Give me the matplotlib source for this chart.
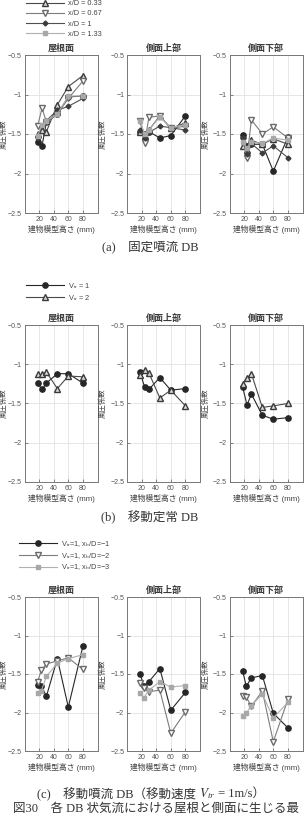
import matplotlib
matplotlib.use("Agg")
import matplotlib.pyplot as plt

plt.rcParams['font.family'] = ['Liberation Sans', 'Noto Sans CJK JP']
plt.rcParams['axes.unicode_minus'] = True
plt.rcParams['mathtext.fontset'] = 'stix'

# ---- shared axis info ----
heights = [18, 24, 30, 45, 60, 80]
heights_c = [18, 23, 30, 45, 60, 80]
panel_titles = ['屋根面', '側面上部', '側面下部']
y_ticks = [-2.5, -2, -1.5, -1, -0.5]
y_tick_labels = ['−2.5', '−2', '−1.5', '−1', '−0.5']
x_ticks = [20, 40, 60, 80]

# ---- (a) fixed jet DB ----
# first series (filled circles) has its legend entry cut off above the figure
fixed_labels = ['x/D = 0.33', 'x/D = 0.67', 'x/D = 1', 'x/D = 1.33']
fixed_roof = [
    [-1.60, -1.65, -1.35, -1.25, -1.03, -1.02],
    [-1.50, -1.45, -1.47, -1.13, -0.90, -0.76],
    [-1.40, -1.17, -1.35, -1.25, -1.05, -0.83],
    [-1.55, -1.40, -1.33, -1.20, -1.15, -1.05],
    [-1.52, -1.38, -1.33, -1.25, -1.02, -1.02],
]
fixed_upper = [
    [-1.47, -1.50, -1.47, -1.55, -1.52, -1.27],
    [-1.47, -1.52, -1.45, -1.27, -1.43, -1.36],
    [-1.33, -1.62, -1.29, -1.27, -1.43, -1.40],
    [-1.45, -1.55, -1.48, -1.40, -1.42, -1.45],
    [-1.33, -1.50, -1.45, -1.28, -1.42, -1.38],
]
fixed_lower = [
    [-1.51, -1.65, -1.63, -1.63, -1.97, -1.54],
    [-1.65, -1.70, -1.58, -1.63, -1.56, -1.63],
    [-1.58, -1.80, -1.32, -1.50, -1.41, -1.55],
    [-1.55, -1.75, -1.62, -1.74, -1.65, -1.80],
    [-1.60, -1.68, -1.60, -1.62, -1.55, -1.58],
]

# ---- (b) moving steady DB ----
steady_labels = ['V$_{\\rm tr}$ = 1', 'V$_{\\rm tr}$ = 2']
steady_roof = [
    [-1.24, -1.32, -1.24, -1.12, -1.12, -1.24],
    [-1.13, -1.13, -1.10, -1.31, -1.15, -1.16],
]
steady_upper = [
    [-1.10, -1.29, -1.32, -1.17, -1.33, -1.31],
    [-1.14, -1.07, -1.11, -1.43, -1.33, -1.53],
]
steady_lower = [
    [-1.29, -1.52, -1.38, -1.65, -1.70, -1.68],
    [-1.25, -1.18, -1.12, -1.55, -1.53, -1.50],
]

# ---- (c) moving jet DB ----
jet_labels = ['V$_{\\rm tr}$=1, x$_{\\rm b}$/D=−1',
              'V$_{\\rm tr}$=1, x$_{\\rm b}$/D=−2',
              'V$_{\\rm tr}$=1, x$_{\\rm b}$/D=−3']
jet_roof = [
    [-1.64, -1.65, -1.79, -1.30, -1.93, -1.14],
    [-1.60, -1.45, -1.37, -1.33, -1.29, -1.44],
    [-1.75, -1.72, -1.53, -1.36, -1.30, -1.25],
]
jet_upper = [
    [-1.50, -1.66, -1.60, -1.43, -1.97, -1.74],
    [-1.62, -1.68, -1.73, -1.71, -2.27, -1.99],
    [-1.75, -1.81, -1.71, -1.60, -1.67, -1.65],
]
jet_lower = [
    [-1.46, -1.66, -1.55, -1.52, -2.01, -2.20],
    [-1.79, -1.80, -1.92, -1.72, -2.38, -1.83],
    [-2.05, -2.01, -1.91, -1.76, -2.07, -1.87],
]

# marker / line styles
st_circle = dict(color='#262626', marker='o', ms=3.8, mfc='#262626', mec='#262626')
st_up = dict(color='#4a4a4a', marker='^', ms=4.0, mfc='#d8d8d8', mec='#3a3a3a')
st_down = dict(color='#7c7c7c', marker='v', ms=4.0, mfc='white', mec='#6a6a6a')
st_diam = dict(color='#505050', marker='D', ms=2.5, mfc='#3c3c3c', mec='#3c3c3c')
st_square = dict(color='#b0b0b0', marker='s', ms=3.4, mfc='#a8a8a8', mec='#a8a8a8')

W, H = 305, 817
fig = plt.figure(figsize=(W / 100, H / 100), dpi=100)

lefts = [24.5, 127, 229.5]
ax_w = 73


def make_row(top, bottom, series_sets, xs, styles):
    axes = []
    for i in range(3):
        ax = fig.add_axes([lefts[i] / W, 1 - bottom / H, ax_w / W, (bottom - top) / H])
        for ys, st in zip(series_sets[i], styles):
            ax.plot(xs, ys, lw=0.8, **st)
        ax.set_xlim(0, 100)
        ax.set_ylim(-2.5, -0.5)
        ax.set_xticks(x_ticks)
        ax.set_yticks(y_ticks)
        ax.set_yticklabels(y_tick_labels)
        ax.grid(True, color='#e2e2e2', lw=0.6)
        ax.set_axisbelow(True)
        ax.tick_params(direction='in', length=2, width=0.5, labelsize=5,
                       colors='#555555', pad=2)
        for sp in ax.spines.values():
            sp.set_color('#777777')
            sp.set_linewidth(0.7)
        ax.set_title(panel_titles[i], fontsize=6.5, fontweight='bold',
                     color='#3a3a3a', pad=3)
        ax.set_xlabel('建物模型高さ (mm)', fontsize=5.6, color='#444444', labelpad=1.5)
        ax.set_ylabel('風圧係数', fontsize=5.3, color='#444444')
        off = 17 if i == 0 else 20
        ax.yaxis.set_label_coords(-off / ax_w, 0.5)
        axes.append(ax)
    return axes


ax_a = make_row(55, 213, [fixed_roof, fixed_upper, fixed_lower], heights,
                [st_circle, st_up, st_down, st_diam, st_square])
ax_b = make_row(325, 482, [steady_roof, steady_upper, steady_lower], heights,
                [st_circle, st_up])
ax_c = make_row(597, 751, [jet_roof, jet_upper, jet_lower], heights_c,
                [st_circle, st_down, st_square])


def row_legend(handles, labels, x_px, top_px, spacing):
    fig.legend(handles, labels, loc='upper left',
               bbox_to_anchor=(x_px / W, 1 - top_px / H),
               frameon=False, fontsize=5.3, handlelength=5.2,
               handletextpad=0.5, labelspacing=spacing, borderpad=0,
               borderaxespad=0, labelcolor='#444444')


row_legend(ax_a[0].get_lines()[1:], fixed_labels, 26, 0, 0.42)
row_legend(ax_b[0].get_lines(), steady_labels, 26, 281, 0.25)
row_legend(ax_c[0].get_lines(), jet_labels, 19, 539, 0.25)

cap_font = ['Liberation Serif', 'Noto Sans CJK JP']
cap_kw = dict(va='center', fontsize=9, family=cap_font, color='#333333')
fig.text(150 / W, 1 - 247 / H, '(a)　固定噴流 DB', ha='center', **cap_kw)
fig.text(150 / W, 1 - 517 / H, '(b)　移動定常 DB', ha='center', **cap_kw)

# caption (c) mixes CJK text with an italic V_tr, so it is laid out in pieces
renderer = fig.canvas.get_renderer()
yc = 1 - 794 / H
pieces = [
    fig.text(0, yc, '(c)　移動噴流 DB（移動速度 ', ha='left', **cap_kw),
    fig.text(0, yc, '$V_{tr}$', ha='left', va='center', fontsize=9.5, color='#333333'),
    fig.text(0, yc, ' = 1m/s）', ha='left', **cap_kw),
]
widths = [p.get_window_extent(renderer).width for p in pieces]
x = 151 - sum(widths) / 2
for p, w in zip(pieces, widths):
    p.set_x(x / W)
    x += w

fig.text(13 / W, 1 - 809 / H, '図30　各 DB 状気流における屋根と側面に生じる最',
         ha='left', **cap_kw)

fig.savefig('out.png', dpi=100)
